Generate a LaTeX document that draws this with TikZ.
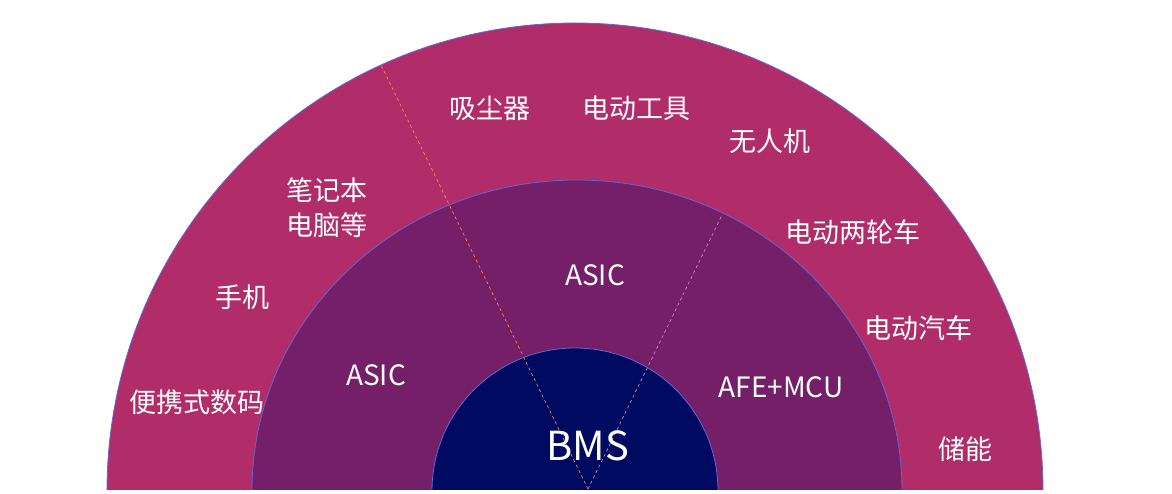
\documentclass[tikz,border=0pt]{standalone}
\usepackage{fontspec}
\setmainfont{Noto Sans CJK SC}
\begin{document}
\begin{tikzpicture}[x=1pt,y=-1pt,
  lab/.style={text=white,font=\fontsize{27}{30}\selectfont,inner sep=0pt,align=center},
  chip/.style={text=white,font=\fontsize{28}{30}\selectfont,inner sep=0pt},
  ring/.style={draw=black!30!blue!60!white,line width=0.8pt}]
\useasboundingbox (0,0) rectangle (1172,494);
\definecolor{outerc}{HTML}{B02D6A}
\definecolor{midc}{HTML}{741F68}
\definecolor{innc}{HTML}{000A60}
\begin{scope}
\clip (0,0) rectangle (1172,489);
\fill[outerc,ring] (575,491) ellipse [x radius=468, y radius=468];
\begin{scope}
\clip (575,491) ellipse [x radius=467, y radius=467];
\draw[orange!80!white,dashed,line width=0.6pt] (588,489) -- (380,63) coordinate (o1);
\end{scope}
\fill[midc,ring] (577,491) ellipse [x radius=325, y radius=311];
\begin{scope}
\clip (577,491) ellipse [x radius=325, y radius=311];
\draw[orange!80!white,dashed,line width=0.6pt] (588,489) -- (380,63);
\draw[violet!40!white,dashed,line width=0.6pt] (588,489) -- (722,215) coordinate (o2);
\end{scope}
\fill[innc,ring] (575,491) ellipse [x radius=143, y radius=143];
\begin{scope}
\clip (575,491) ellipse [x radius=143, y radius=143];
\draw[orange!80!white,dashed,line width=0.6pt] (588,489) -- (380,63);
\draw[violet!40!white,dashed,line width=0.6pt] (588,489) -- (722,215);
\end{scope}
\end{scope}
\node[lab] (a1) at (490,108) {吸尘器};
\node[lab] (a2) at (636,108) {电动工具};
\node[lab] (a3) at (770,141) {无人机};
\node[lab] (a4) at (327,190) {笔记本};
\node[lab] (a4b) at (327,225) {电脑等};
\node[lab] (a5) at (853,232) {电动两轮车};
\node[lab] (a6) at (242,297) {手机};
\node[lab] (a7) at (918,328) {电动汽车};
\node[lab] (a8) at (197,402) {便携式数码};
\node[lab] (a9) at (965,449) {储能};
\node[chip] (c1) at (595,275) {ASIC};
\node[chip] (c2) at (376,375) {ASIC};
\node[chip] (c3) at (781,387) {AFE+MCU};
\node[text=white,font=\fontsize{40}{44}\selectfont,inner sep=0pt] (bms) at (588,446) {BMS};
\end{tikzpicture}
\end{document}
